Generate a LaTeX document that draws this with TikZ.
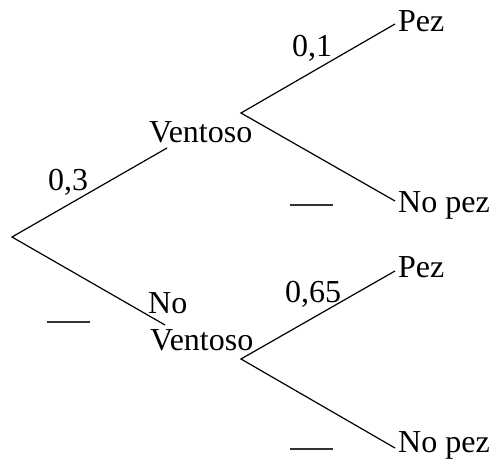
\documentclass[tikz,border=0pt]{standalone}
\usepackage{fontspec}
\setmainfont{Liberation Serif}
\begin{document}
\begin{tikzpicture}[x=1pt,y=-1pt,
  lbl/.style={inner sep=0pt,anchor=base west,font=\fontsize{32}{32}\selectfont},
  branch/.style={line width=1.2pt},
  blank/.style={inner sep=0pt,anchor=center,text height=1.2pt,minimum height=1.3pt,minimum width=43pt,fill=black!80}]
\useasboundingbox (0,0) rectangle (493,468);
% coordinates
\coordinate (R) at (12,237);
\coordinate (V1) at (167,148);
\coordinate (V2) at (165,325);
\coordinate (S1) at (241,113);
\coordinate (S2) at (241,359);
\coordinate (P1) at (395,24);
\coordinate (N1) at (395,201);
\coordinate (P2) at (395,271);
\coordinate (N2) at (395,448);
% labels
\node[lbl] (t03) at (48,190) {0,3};
\node[lbl] (tv1) at (149,143) {Ventoso};
\node[lbl] (t01) at (292,57) {0,1};
\node[lbl] (tp1) at (398,32) {Pez};
\node[lbl] (tn1) at (398,212) {No pez};
\node[lbl] (tno) at (148,313) {No};
\node[lbl] (tv2) at (150,350) {Ventoso};
\node[lbl] (t065) at (285,302) {0,65};
\node[lbl] (tp2) at (398,277) {Pez};
\node[lbl] (tn2) at (398,452) {No pez};
% blanks
\node[blank] (b0) at (68.5,322) {};
\node[blank] (b1) at (311.5,205) {};
\node[blank] (b2) at (311.5,449) {};
% branches
\draw[branch] (V1) -- (R) -- (V2);
\draw[branch] (P1) -- (S1) -- (N1);
\draw[branch] (P2) -- (S2) -- (N2);
\end{tikzpicture}
\end{document}
